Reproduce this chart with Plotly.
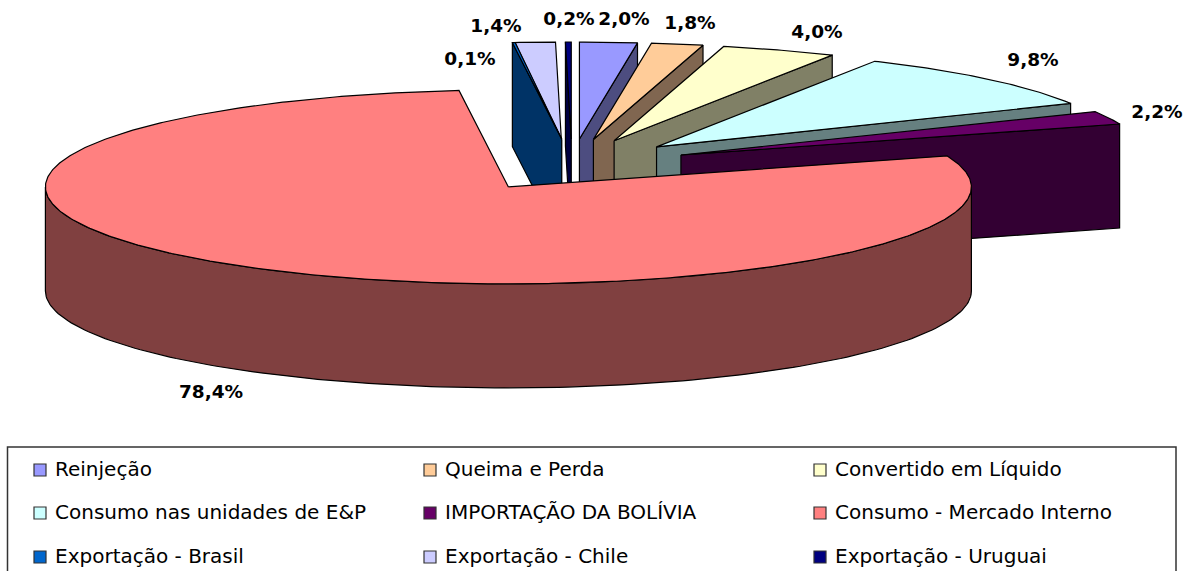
import numpy as np
import plotly.graph_objects as go

# ---- data ----
categories = ["Reinjeção", "Queima e Perda", "Convertido em Líquido",
              "Consumo nas unidades de E&P", "IMPORTAÇÃO DA BOLÍVIA",
              "Consumo - Mercado Interno", "Exportação - Brasil",
              "Exportação - Chile", "Exportação - Uruguai"]
values = [2.0, 1.8, 4.0, 9.8, 2.2, 78.4, 0.1, 1.4, 0.2]
top_colors = ["#9999FF", "#FFCC99", "#FFFFCC", "#CCFFFF", "#660066",
              "#FF8080", "#0066CC", "#CCCCFF", "#000080"]
wall_colors = ["#4D4D80", "#806650", "#808066", "#668080", "#330033",
               "#804040", "#003366", "#666680", "#000040"]

# ---- geometry / style ----
W, H = 1186, 571
CX, CY = 572.0, 165.0
RX, RY, DEPTH = 463.0, 97.0, 104.0
EX, EY = 118.0, 26.0
TIP_NUDGE_X = [0, 0, 0, 0, 0, 0, 2, -4, 0]
LABEL_XY = [(624, 20), (690, 24), (817, 33), (1033, 61), (1157, 113),
            (211, 393), (470, 60), (496, 27), (569, 20)]
LEG_X = [40, 430, 820]
LEG_Y = [470, 513, 557]
LEG_DX = 15
FONT = "DejaVu Sans"
DRAW_ORDER = [7, 8, 6, 0, 1, 2, 3, 4, 5]

total = sum(values)
edges = np.concatenate([[0], np.cumsum(values)]) / total * 2 * np.pi


def pt(tx, ty, a):
    return tx + RX * np.sin(a), ty - RY * np.cos(a)


fig = go.Figure()


def poly(xs, ys, fill, name):
    fig.add_trace(go.Scatter(x=list(xs), y=list(ys), mode="lines", fill="toself",
                             fillcolor=fill, line=dict(color="black", width=1.2),
                             name=name, hoverinfo="name", showlegend=False))


for i in DRAW_ORDER:
    a0, a1 = edges[i], edges[i + 1]
    mid = (a0 + a1) / 2
    tx, ty = CX + EX * np.sin(mid) + TIP_NUDGE_X[i], CY - EY * np.cos(mid)
    name = categories[i]
    # visible straight wall of the exploded slice
    if mid < np.pi / 2:
        ex, ey = pt(tx, ty, a1)
        poly([tx, ex, ex, tx, tx], [ty, ey, ey + DEPTH, ty + DEPTH, ty], wall_colors[i], name)
    elif mid > 3 * np.pi / 2:
        ex, ey = pt(tx, ty, a0)
        poly([tx, ex, ex, tx, tx], [ty, ey, ey + DEPTH, ty + DEPTH, ty], wall_colors[i], name)
    # visible outer rim
    lo, hi = max(a0, np.pi / 2), min(a1, 3 * np.pi / 2)
    if hi > lo:
        arc = np.linspace(lo, hi, 160)
        ax, ay = pt(tx, ty, arc)
        poly(np.concatenate([ax, ax[::-1], ax[:1]]),
             np.concatenate([ay, ay[::-1] + DEPTH, ay[:1]]), wall_colors[i], name)
    # top face
    n = max(8, int((a1 - a0) / (2 * np.pi) * 720))
    arc = np.linspace(a0, a1, n)
    ax, ay = pt(tx, ty, arc)
    poly(np.concatenate([[tx], ax, [tx]]), np.concatenate([[ty], ay, [ty]]), top_colors[i], name)

# percentage labels
fig.add_trace(go.Scatter(
    x=[p[0] for p in LABEL_XY], y=[p[1] for p in LABEL_XY], mode="text",
    text=[f"{v:.1f}%".replace(".", ",") for v in values],
    textposition="middle center",
    textfont=dict(family=FONT, size=18.5, color="black", weight="bold"),
    hoverinfo="skip", showlegend=False))

# legend (3 x 3 grid, row by row)
leg_x = [LEG_X[i % 3] for i in range(9)]
leg_y = [LEG_Y[i // 3] for i in range(9)]
fig.add_trace(go.Scatter(
    x=leg_x, y=leg_y, mode="markers",
    marker=dict(symbol="square", size=12, color=top_colors,
                line=dict(color="#333333", width=1.2)),
    hoverinfo="skip", showlegend=False))
fig.add_trace(go.Scatter(
    x=[x + LEG_DX for x in leg_x], y=[y + 1 for y in leg_y], mode="text", text=categories,
    textposition="middle right",
    textfont=dict(family=FONT, size=20, color="black"),
    hoverinfo="skip", showlegend=False))

fig.update_layout(
    width=W, height=H, margin=dict(l=0, r=0, t=0, b=0),
    paper_bgcolor="white", plot_bgcolor="white",
    xaxis=dict(range=[0, W], visible=False, fixedrange=True),
    yaxis=dict(range=[H, 0], visible=False, fixedrange=True),
    shapes=[dict(type="rect", xref="x", yref="y", x0=7.5, y0=447, x1=1176, y1=590,
                 line=dict(color="#333333", width=1.5), fillcolor="rgba(0,0,0,0)")],
)
fig.write_html("out.html", config={"displayModeBar": False},
               post_script="document.body.style.margin='0';document.body.style.overflow='hidden';")
